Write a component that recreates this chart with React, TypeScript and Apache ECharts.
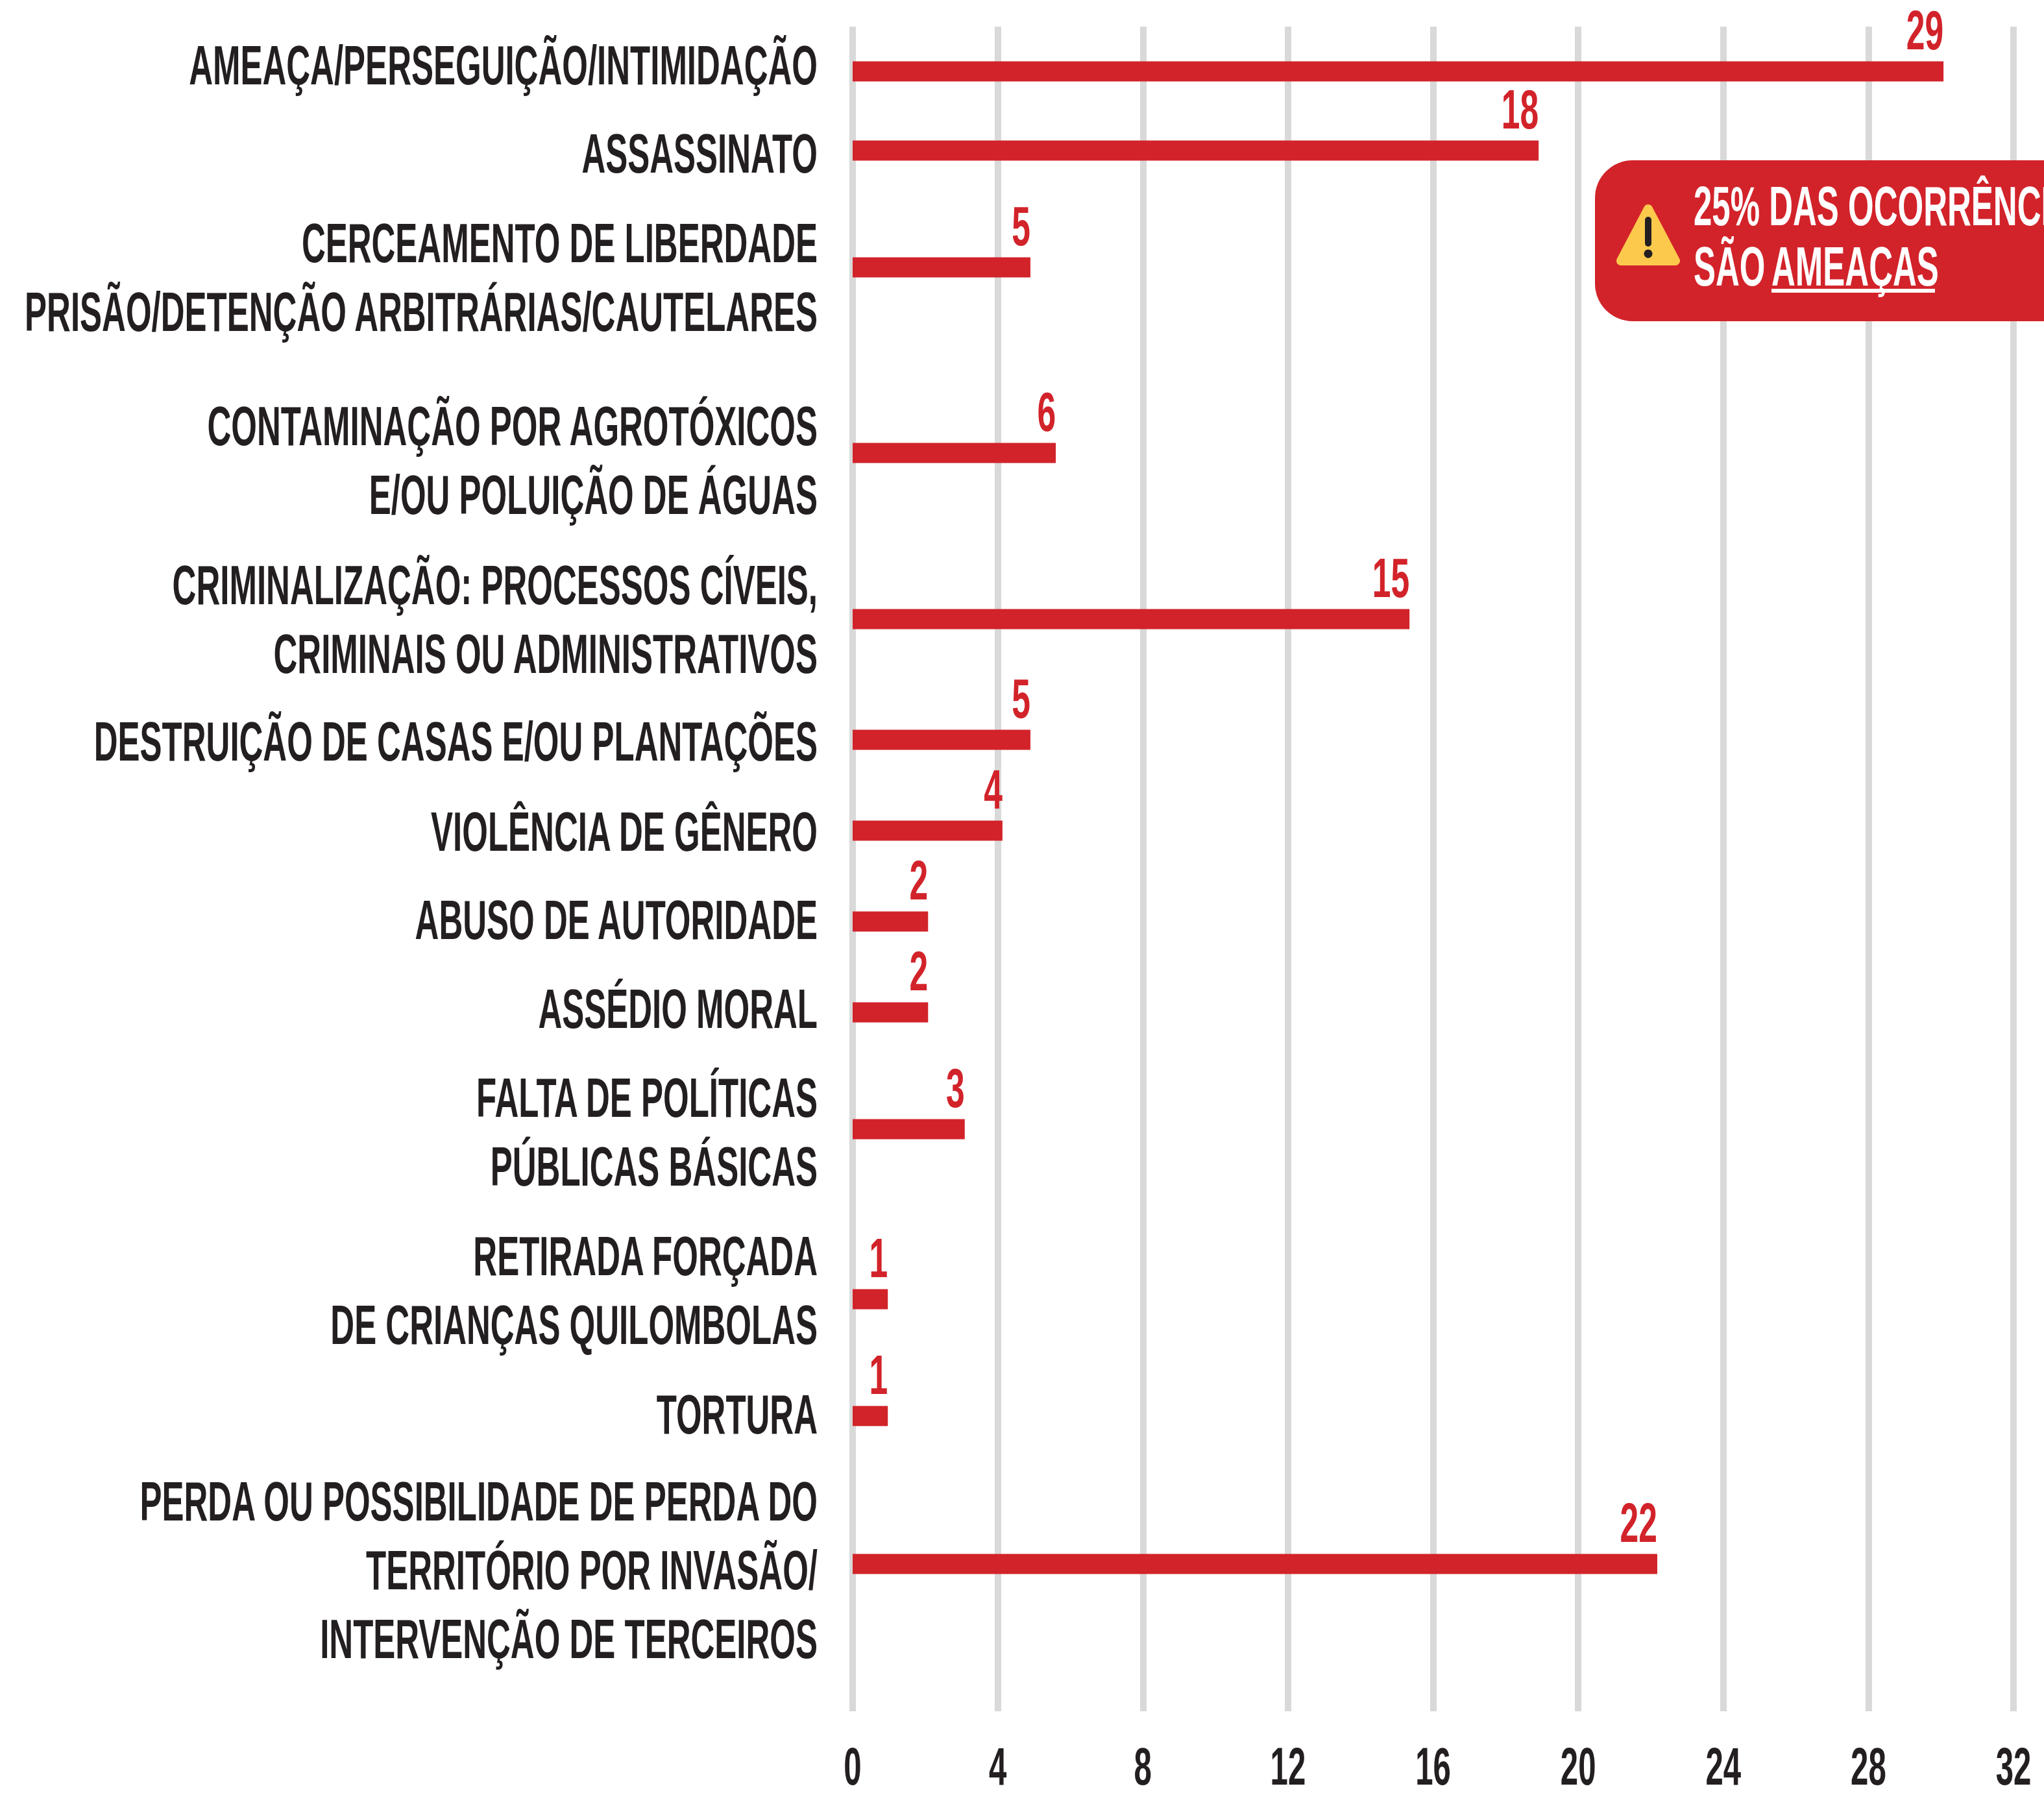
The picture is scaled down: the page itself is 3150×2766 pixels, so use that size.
import React, { useEffect, useRef } from "react";
import * as echarts from "echarts";

const categories = [
  "AMEAÇA/PERSEGUIÇÃO/INTIMIDAÇÃO",
  "ASSASSINATO",
  "CERCEAMENTO DE LIBERDADE\nPRISÃO/DETENÇÃO ARBITRÁRIAS/CAUTELARES",
  "CONTAMINAÇÃO POR AGROTÓXICOS\nE/OU POLUIÇÃO DE ÁGUAS",
  "CRIMINALIZAÇÃO: PROCESSOS CÍVEIS,\nCRIMINAIS OU ADMINISTRATIVOS",
  "DESTRUIÇÃO DE CASAS E/OU PLANTAÇÕES",
  "VIOLÊNCIA DE GÊNERO",
  "ABUSO DE AUTORIDADE",
  "ASSÉDIO MORAL",
  "FALTA DE POLÍTICAS\nPÚBLICAS BÁSICAS",
  "RETIRADA FORÇADA\nDE CRIANÇAS QUILOMBOLAS",
  "TORTURA",
  "PERDA OU POSSIBILIDADE DE PERDA DO\nTERRITÓRIO POR INVASÃO/\nINTERVENÇÃO DE TERCEIROS",
];
const printedValues = [29, 18, 5, 6, 15, 5, 4, 2, 2, 3, 1, 1, 22];
const barLengths = [30.07, 18.91, 4.9, 5.6, 15.35, 4.9, 4.13, 2.08, 2.08, 3.09, 0.97, 0.97, 22.18];
const xTicks = [0, 4, 8, 12, 16, 20, 24, 28, 32];

// layout: irregular row spacing, expressed as slots of a fine category axis
const SLOT_COUNT = 1298;
const rowSlots = [34, 95, 185, 328, 456, 549, 619, 689, 759, 849, 980, 1070, 1184];
const labelShift = [-9, 5, 16, 12, 1, 3, 2, -2, -5, 5, -13, -2, 10];

const RED = "#d2232a";
const INK = "#231f20";
const FONT = "'Liberation Sans', sans-serif";
const CONDENSE = 0.6; // no condensed face is installed: the texts are narrowed horizontally
const LINE = 106;

const slotCategories: string[] = Array.from({ length: SLOT_COUNT }, () => "");
const slotValues: any[] = Array.from({ length: SLOT_COUNT }, () => null);
rowSlots.forEach((slot, i) => {
  slotCategories[slot] = categories[i];
  slotValues[slot] = { value: barLengths[i], printed: printedValues[i] };
});

function fitTexts(chart: any) {
  const zr = chart.getZr();
  const seen = new Set<any>();
  zr.storage.getDisplayList(true).forEach((el: any) => {
    const t = el.type === "tspan" ? el.parent : null;
    if (t && !seen.has(t)) {
      seen.add(t);
      (t.innerTransformable || t).scaleX = CONDENSE;
      t.scaleX = CONDENSE;
      const row = categories.indexOf(t.style.text);
      if (row >= 0) t.y += labelShift[row];
      t.markRedraw();
    }
  });
  zr.refreshImmediately();
}

export default function App() {
  const ref = useRef<HTMLDivElement>(null);
  useEffect(() => {
    const chart = echarts.init(ref.current!, undefined, { renderer: "svg" });
    chart.setOption({
      animation: false,
      backgroundColor: "#ffffff",
      grid: { left: 1314, right: 47, top: 41, bottom: 129, containLabel: false, outerBoundsMode: "none" },
      xAxis: {
        type: "value",
        min: xTicks[0],
        max: xTicks[xTicks.length - 1],
        interval: xTicks[1] - xTicks[0],
        axisLine: { show: false },
        axisTick: { show: false },
        splitLine: { show: true, lineStyle: { color: "#d9d9d9", width: 10 } },
        axisLabel: {
          color: INK,
          fontFamily: FONT,
          fontWeight: "bold",
          fontSize: 82,
          margin: 43,
          hideOverlap: false,
          showMinLabel: true,
          showMaxLabel: true,
        },
      },
      yAxis: {
        type: "category",
        inverse: true,
        data: slotCategories,
        axisLine: { show: false },
        axisTick: { show: false },
        splitLine: { show: false },
        axisLabel: {
          interval: (_i: number, v: string) => v !== "",
          showMinLabel: true,
          showMaxLabel: true,
          color: INK,
          fontFamily: FONT,
          fontWeight: "bold",
          fontSize: 85,
          lineHeight: LINE,
          margin: 54,
          align: "right",
        },
      },
      series: [
        {
          type: "bar",
          data: slotValues,
          barWidth: 31,
          itemStyle: { color: RED },
          label: {
            show: true,
            position: "insideBottomRight",
            distance: 0,
            offset: [0, -36],
            color: RED,
            fontFamily: FONT,
            fontWeight: "bold",
            fontSize: 86,
            formatter: (p: any) => (p.data && p.data.printed != null ? String(p.data.printed) : ""),
          },
        },
      ],
      graphic: [
        {
          type: "rect",
          shape: { x: 2458, y: 247, width: 800, height: 248, r: 58 },
          style: { fill: RED },
          z: 10,
        },
        {
          type: "polygon",
          shape: { points: [[2540, 322], [2582, 402], [2498, 402]] },
          style: { fill: "#fdc94d", stroke: "#fdc94d", lineWidth: 14, lineJoin: "round" },
          z: 11,
        },
        {
          type: "rect",
          shape: { x: 2535, y: 334, width: 10, height: 46, r: 5 },
          style: { fill: INK },
          z: 12,
        },
        { type: "circle", shape: { cx: 2540, cy: 391, r: 6.5 }, style: { fill: INK }, z: 12 },
        {
          type: "text",
          x: 2610,
          y: 318,
          style: {
            text: "25% DAS OCORRÊNCIAS",
            fill: "#ffffff",
            font: `bold 85px ${FONT}`,
            verticalAlign: "middle",
          },
          z: 12,
        },
        {
          type: "text",
          x: 2610,
          y: 411,
          style: {
            text: "SÃO",
            fill: "#ffffff",
            font: `bold 85px ${FONT}`,
            verticalAlign: "middle",
          },
          z: 12,
        },
        {
          type: "text",
          x: 2730,
          y: 411,
          style: {
            text: "AMEAÇAS",
            fill: "#ffffff",
            font: `bold 85px ${FONT}`,
            verticalAlign: "middle",
          },
          z: 12,
        },
        {
          type: "rect",
          shape: { x: 2730, y: 445, width: 252, height: 6 },
          style: { fill: "#ffffff" },
          z: 12,
        },
      ],
    });
    fitTexts(chart);
    return () => chart.dispose();
  }, []);
  return (
    <div
      ref={ref}
      style={{ position: "absolute", left: 0, top: 0, width: 3150, height: 2766, background: "#fff" }}
    />
  );
}
